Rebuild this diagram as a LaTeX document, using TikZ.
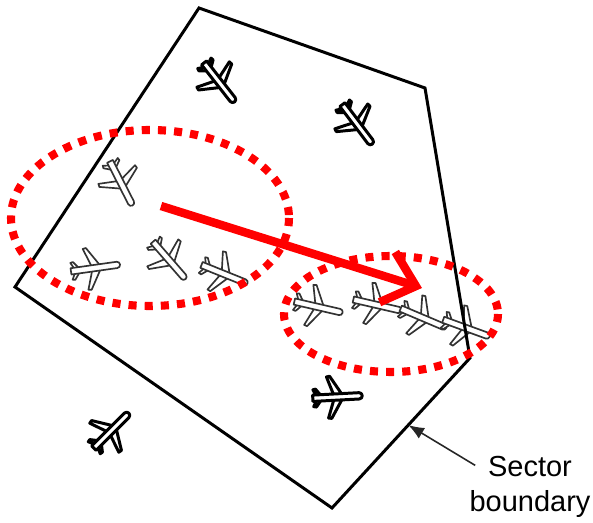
\documentclass[tikz,border=0pt]{standalone}
\usepackage{fontspec}
\setmainfont{Liberation Sans}
\usetikzlibrary{arrows.meta,calc}

\tikzset{
  % parts of an aircraft icon; the look is switched by the jet / ghost styles
  planepart/.style={draw=black, fill=white, line width=1.3pt, line join=round},
  jet/.style={planepart/.style={draw=black, fill=white, line width=1.7pt, line join=round}},
  ghost/.style={planepart/.style={draw=black!80, fill=white, line width=0.95pt, line join=round}},
  pics/plane/.style={code={
    \begin{scope}[x=0.6pt, y=0.6pt]
      % main wings, swept back
      \path[planepart] (5,2) -- (-6,20) -- (-9,19.5) -- (-3,2) -- cycle;
      \path[planepart] (5,-2) -- (-6,-20) -- (-9,-19.5) -- (-3,-2) -- cycle;
      % tailplanes
      \path[planepart] (-15,2) -- (-20,8.5) -- (-22.5,8) -- (-19.5,2) -- cycle;
      \path[planepart] (-15,-2) -- (-20,-8.5) -- (-22.5,-8) -- (-19.5,-2) -- cycle;
      % fuselage
      \path[planepart] (-23,3) -- (21,3) arc[start angle=90, end angle=-90, radius=3]
                       -- (-23,-3) -- cycle;
    \end{scope}
  }},
  sector/.style={draw=black, line width=1.7pt, line join=miter},
  cluster/.style={draw=red, line width=4.6pt, dash pattern=on 4.6pt off 4.6pt},
  flow/.style={draw=red, line width=4.8pt, -{Straight Barb[length=17pt, width=30pt]}},
  callout/.style={draw=black!85, line width=0.9pt, -{Latex[length=9pt, width=7pt]}},
  caption/.style={font=\fontsize{16.5}{19.5}\selectfont, align=center, inner sep=0pt}
}

\begin{document}
\begin{tikzpicture}[x=0.02cm, y=-0.02cm]
  \useasboundingbox (0,0) rectangle (593,523);

  % corners of the sector
  \coordinate (top)   at (199,8);
  \coordinate (ne)    at (425,88);
  \coordinate (se)    at (470,358);
  \coordinate (bot)   at (332,508);
  \coordinate (west)  at (15,287);

  % traffic
  \pic[jet, rotate=-52] at (219,82)  {plane};
  \pic[jet, rotate=-53] at (357,124) {plane};
  \pic[jet, rotate=3]   at (337,397) {plane};
  \pic[jet, rotate=45]  at (111,431) {plane};

  % aircraft before the move
  \pic[ghost, rotate=-63] at (121,183) {plane};
  \pic[ghost, rotate=8]   at (95,268)  {plane};
  \pic[ghost, rotate=-49] at (169,260) {plane};
  \pic[ghost, rotate=-22] at (224,274) {plane};

  % aircraft bunched at the boundary
  \pic[ghost, rotate=-13] at (318,307) {plane};
  \pic[ghost, rotate=-13] at (377,305) {plane};
  \pic[ghost, rotate=-23] at (423,318) {plane};
  \pic[ghost, rotate=-20] at (466,328) {plane};

  % sector boundary
  \draw[sector] (top) -- (ne) -- (se) -- (bot) -- (west) -- cycle;

  % clusters
  \draw[cluster] (150,218) ellipse [x radius=139, y radius=88];
  \draw[cluster] (391,314) ellipse [x radius=107, y radius=58];

  % movement of the traffic
  \coordinate (from) at (161,206);
  \coordinate (to)   at (422,288);
  \draw[flow] (from) -- (to);

  % label of the boundary
  \node[caption] (label) at (530,487) {Sector\\boundary};
  \coordinate (edge) at ($(se)!0.447!(bot)$);
  \draw[callout] ($(label.north west)+(6,9)$) -- (edge);
\end{tikzpicture}
\end{document}
